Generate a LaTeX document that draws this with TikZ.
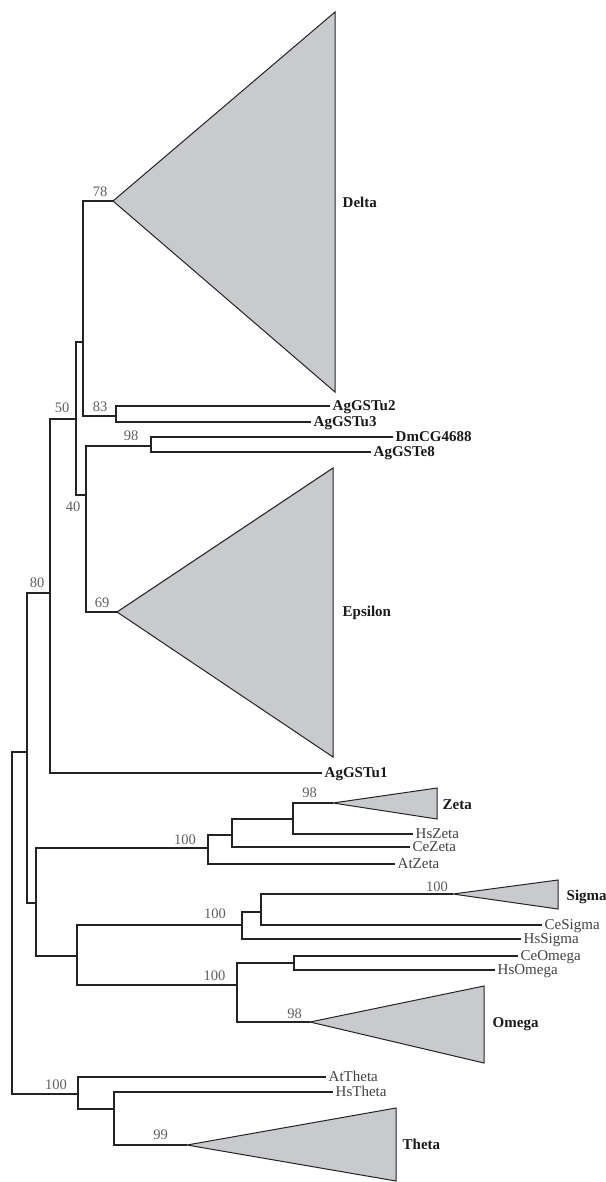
\documentclass[tikz,border=0pt]{standalone}
\usepackage{fontspec}
\setmainfont{Liberation Serif}
\definecolor{cladefill}{RGB}{200,202,205}
\definecolor{linec}{RGB}{35,35,35}
\definecolor{bootc}{RGB}{95,95,95}
\definecolor{plainc}{RGB}{65,65,65}
\begin{document}
\begin{tikzpicture}[x=1pt,y=-1pt,
  branch/.style={draw=linec,line width=1.1pt,line join=miter},
  clade/.style={draw=linec,line width=1.0pt,fill=cladefill,line join=miter},
  boldlab/.style={anchor=west,inner xsep=2.5pt,inner ysep=0pt,text height=9.9pt,text depth=0pt,
    font=\fontsize{15}{17}\selectfont\bfseries,text=black!90},
  plainlab/.style={anchor=west,inner xsep=2.5pt,inner ysep=0pt,text height=9.9pt,text depth=0pt,
    font=\fontsize{15}{17}\selectfont,text=plainc},
  boot/.style={inner sep=0pt,font=\fontsize{14.5}{16}\selectfont,text=bootc}]
\useasboundingbox (0,0) rectangle (605,1182);

% internal nodes
\coordinate (root) at (12,923);
\coordinate (nA) at (27,752);
\coordinate (n80) at (50,593);
\coordinate (n50) at (76,419);
\coordinate (nD) at (83,342);
\coordinate (n83) at (116,416);
\coordinate (n40) at (86,495);
\coordinate (n98) at (151,446);
\coordinate (n36) at (36,903);
\coordinate (nZ) at (208,848);
\coordinate (nZ2) at (232,835);
\coordinate (nZ98) at (293,819);
\coordinate (n77) at (77,956);
\coordinate (nS) at (242,925);
\coordinate (nS2) at (261,912);
\coordinate (nO) at (237,985);
\coordinate (nO2) at (294,963);
\coordinate (nT) at (78,1094);
\coordinate (nT2) at (114,1109);

% collapsed clades
\coordinate (dapex) at (113,201); \coordinate (dtop) at (335,12);  \coordinate (dbot) at (335,392);
\coordinate (eapex) at (117,612); \coordinate (etop) at (333,468); \coordinate (ebot) at (333,757);
\coordinate (zapex) at (333,803); \coordinate (ztop) at (437,788); \coordinate (zbot) at (437,819);
\coordinate (sapex) at (453,894); \coordinate (stop) at (558,880); \coordinate (sbot) at (558,909);
\coordinate (oapex) at (310,1022); \coordinate (otop) at (484,986); \coordinate (obot) at (484,1063);
\coordinate (tapex) at (187,1145); \coordinate (ttop) at (396,1108); \coordinate (tbot) at (396,1181);

\draw[clade] (dapex) -- (dtop) -- (dbot) -- cycle;
\draw[clade] (eapex) -- (etop) -- (ebot) -- cycle;
\draw[clade] (zapex) -- (ztop) -- (zbot) -- cycle;
\draw[clade] (sapex) -- (stop) -- (sbot) -- cycle;
\draw[clade] (oapex) -- (otop) -- (obot) -- cycle;
\draw[clade] (tapex) -- (ttop) -- (tbot) -- cycle;

% leaf labels
\node[boldlab] (u2) at (330,406) {AgGSTu2};
\node[boldlab] (u3) at (311,422) {AgGSTu3};
\node[boldlab] (dm) at (393,437) {DmCG4688};
\node[boldlab] (e8) at (371,452) {AgGSTe8};
\node[boldlab] (u1) at (322,773) {AgGSTu1};
\node[plainlab] (hsz) at (413,834) {HsZeta};
\node[plainlab] (cez) at (410,847) {CeZeta};
\node[plainlab] (atz) at (395,864) {AtZeta};
\node[plainlab] (ces) at (542,925) {CeSigma};
\node[plainlab] (hss) at (521,939) {HsSigma};
\node[plainlab] (ceo) at (518,956) {CeOmega};
\node[plainlab] (hso) at (495,970) {HsOmega};
\node[plainlab] (att) at (326,1077) {AtTheta};
\node[plainlab] (hst) at (333,1092) {HsTheta};

% clade names
\node[boldlab] (ldelta) at (340,203) {Delta};
\node[boldlab] (leps) at (340,612) {Epsilon};
\node[boldlab] (lzeta) at (440,805) {Zeta};
\node[boldlab] (lsigma) at (564,896) {Sigma};
\node[boldlab] (lomega) at (490,1023) {Omega};
\node[boldlab] (ltheta) at (400,1145) {Theta};

% branches
\draw[branch] (root) |- (nA);
\draw[branch] (root) |- (nT);
\draw[branch] (nA) |- (n80);
\draw[branch] (nA) |- (n36);
\draw[branch] (n80) |- (n50);
\draw[branch] (n80) |- (u1.west);
\draw[branch] (n50) |- (nD);
\draw[branch] (n50) |- (n40);
\draw[branch] (nD) |- (dapex);
\draw[branch] (nD) |- (n83);
\draw[branch] (n83) |- (u2.west);
\draw[branch] (n83) |- (u3.west);
\draw[branch] (n40) |- (n98);
\draw[branch] (n40) |- (eapex);
\draw[branch] (n98) |- (dm.west);
\draw[branch] (n98) |- (e8.west);
\draw[branch] (n36) |- (nZ);
\draw[branch] (n36) |- (n77);
\draw[branch] (nZ) |- (nZ2);
\draw[branch] (nZ) |- (atz.west);
\draw[branch] (nZ2) |- (nZ98);
\draw[branch] (nZ2) |- (cez.west);
\draw[branch] (nZ98) |- (zapex);
\draw[branch] (nZ98) |- (hsz.west);
\draw[branch] (n77) |- (nS);
\draw[branch] (n77) |- (nO);
\draw[branch] (nS) |- (nS2);
\draw[branch] (nS) |- (hss.west);
\draw[branch] (nS2) |- (sapex);
\draw[branch] (nS2) |- (ces.west);
\draw[branch] (nO) |- (nO2);
\draw[branch] (nO) |- (oapex);
\draw[branch] (nO2) |- (ceo.west);
\draw[branch] (nO2) |- (hso.west);
\draw[branch] (nT) |- (att.west);
\draw[branch] (nT) |- (nT2);
\draw[branch] (nT2) |- (hst.west);
\draw[branch] (nT2) |- (tapex);

% bootstrap values
\node[boot] (b78) at (100,192) {78};
\node[boot] (b83) at (100,407) {83};
\node[boot] (b98a) at (131,436) {98};
\node[boot] (b50) at (62,408) {50};
\node[boot] (b40) at (73,507) {40};
\node[boot] (b69) at (102,603) {69};
\node[boot] (b80) at (37,583) {80};
\node[boot] (b100z) at (185,840) {100};
\node[boot] (b98z) at (309.5,793) {98};
\node[boot] (b100s) at (215,914) {100};
\node[boot] (b100si) at (437,887) {100};
\node[boot] (b100o) at (214.5,976) {100};
\node[boot] (b98o) at (294.5,1014) {98};
\node[boot] (b100t) at (56,1085) {100};
\node[boot] (b99t) at (160.5,1135) {99};
\end{tikzpicture}
\end{document}
